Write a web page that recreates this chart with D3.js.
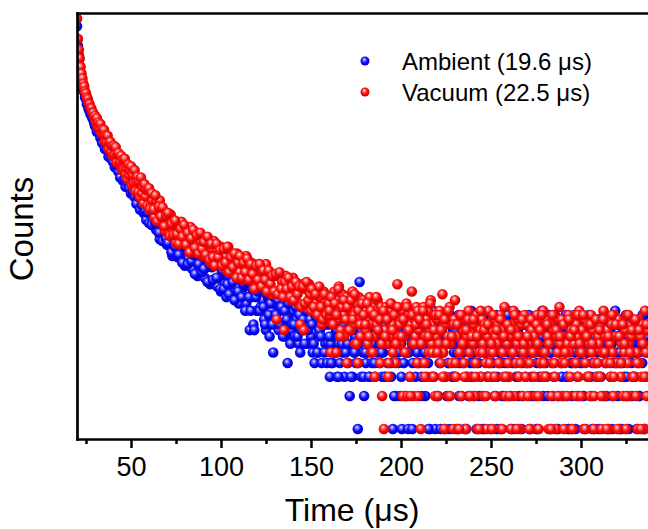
<!DOCTYPE html>
<html>
<head>
<meta charset="utf-8">
<script src="https://cdn.jsdelivr.net/npm/d3@7"></script>
<style>
  body { margin: 0; background: #fff; }
  text { font-family: "Liberation Sans", Arial, sans-serif; fill: #000; }
</style>
</head>
<body>
<div id="chart"></div>
<script>
// decay data, several sampling segments per series
// segment start times (us) and steps (us), same order as the arrays below
var segStart = [20, 60, 60.5, 160, 160.25];
var segStep = [0.5, 1, 1, 0.5, 1];

// Ambient, t = 20 .. 59.5 step 0.5
var ambientEarly = [
  4750, 3150, 2580, 2060, 1800, 1530, 1410, 1250, 1190, 1070,
  1025, 925, 905, 830, 810, 750, 740, 690, 680, 630,
  583, 627, 518, 596, 509, 563, 455, 496, 409, 469,
  459, 361, 411, 355, 414, 307, 338, 369, 293, 331,
  275, 326, 245, 301, 254, 301, 224, 253, 198, 257,
  255, 186, 227, 189, 163, 234, 178, 198, 157, 195,
  141, 192, 147, 190, 131, 153, 114, 159, 131, 145,
  101, 151, 111, 126, 94, 131, 98, 81, 116, 94
];
// Ambient, t = 60 .. 159 step 1
var ambientMid = [
  76, 105, 80, 109, 66, 80, 54, 82, 61, 77,
  48, 71, 50, 38, 57, 48, 37, 61, 39, 47,
  31, 48, 36, 41, 29, 48, 34, 25, 39, 28,
  40, 24, 30, 34, 21, 30, 23, 35, 20, 24,
  18, 29, 21, 16, 25, 21, 17, 27, 18, 20,
  14, 23, 17, 20, 14, 22, 8, 16, 9, 18,
  12, 19, 13, 15, 10, 8, 16, 7, 12, 5,
  10, 14, 8, 12, 9, 15, 7, 4, 11, 8,
  12, 7, 10, 6, 5, 13, 8, 9, 6, 11,
  7, 5, 4, 10, 5, 8, 4, 12, 6, 4
];
// Ambient, t = 60.5 .. 159.5 step 1
var ambientMidB = [
  112, 73, 96, 76, 100, 62, 80, 52, 79, 55,
  50, 68, 41, 58, 46, 63, 39, 49, 33, 50,
  47, 32, 49, 34, 39, 26, 42, 32, 43, 27,
  29, 37, 22, 32, 36, 23, 31, 24, 34, 19,
  28, 19, 31, 21, 17, 27, 22, 15, 26, 18,
  25, 16, 21, 12, 22, 16, 12, 19, 8, 16,
  18, 12, 19, 13, 9, 17, 11, 14, 9, 16,
  11, 15, 9, 13, 7, 12, 10, 14, 6, 9,
  9, 13, 7, 11, 8, 10, 6, 12, 8, 10,
  9, 6, 11, 5, 8, 7, 10, 5, 9, 6
];
// Ambient, t = 160 .. 337 step 0.5
var ambientTail = [
  9, 3, 6, 11, 4, 7, 13, 5, 8, 3, 10, 6, 4, 9, 12, 5, 7, 3, 11, 6,
  8, 4, 10, 2, 6, 9, 3, 12, 5, 7, 4, 11, 1, 6, 22, 8, 3, 10, 5, 2,
  7, 4, 9, 5, 11, 3, 6, 8, 4, 10, 6, 3, 12, 7, 5, 9, 4, 6, 8, 3,
  5, 9, 3, 7, 11, 4, 8, 6, 10, 3, 7, 1, 5, 9, 2, 6, 12, 4, 8, 2,
  6, 1, 9, 4, 7, 2, 10, 5, 1, 8, 3, 11, 6, 4, 9, 7, 3, 12, 5, 8,
  4, 9, 6, 3, 11, 5, 8, 2, 7, 10, 4, 6, 1, 9, 3, 7, 12, 5, 1, 8,
  6, 2, 10, 4, 1, 8, 5, 11, 3, 7, 9, 2, 6, 4, 1, 10, 7, 3, 8, 5,
  3, 9, 1, 6, 11, 4, 7, 2, 8, 5, 10, 1, 6, 3, 9, 2, 7, 4, 12, 5,
  8, 2, 5, 10, 1, 7, 4, 9, 3, 6, 11, 2, 8, 1, 5, 7, 3, 10, 4, 6,
  1, 7, 4, 9, 2, 6, 11, 3, 8, 5, 1, 10, 4, 7, 2, 9, 6, 3, 8, 12,
  5, 10, 2, 7, 4, 1, 9, 6, 3, 11, 8, 2, 5, 7, 1, 4, 10, 6, 3, 9,
  4, 6, 11, 1, 8, 3, 5, 9, 2, 7, 10, 4, 1, 6, 3, 8, 5, 12, 2, 7,
  9, 3, 6, 2, 10, 5, 1, 8, 4, 7, 3, 11, 6, 1, 9, 2, 5, 8, 4, 10,
  2, 8, 5, 11, 3, 7, 1, 6, 9, 4, 2, 10, 7, 5, 1, 8, 3, 6, 11, 4,
  7, 4, 10, 2, 6, 1, 8, 5, 3, 11, 9, 6, 2, 4, 7, 1, 10, 3, 5, 8,
  1, 6, 3, 9, 7, 2, 11, 4, 8, 5, 1, 7, 10, 3, 6, 2, 9, 4, 12, 5,
  9, 2, 7, 5, 1, 10, 4, 8, 3, 6, 11, 2, 7, 1, 5, 9, 4, 6, 3, 8,
  3, 7, 1, 9, 5, 2, 10, 6, 4, 8, 1, 11, 3, 7, 5
];
// Ambient, t = 160.25 .. 336.25 step 1
var ambientTailB = [
  7, 4, 10, 5, 8, 3, 11, 6, 9, 5,
  6, 10, 3, 8, 5, 12, 4, 7, 9, 3,
  5, 8, 3, 10, 6, 4, 9, 7, 11, 5,
  8, 3, 6, 10, 4, 7, 2, 9, 5, 11,
  3, 7, 2, 10, 5, 8, 1, 6, 11, 4,
  7, 2, 9, 5, 11, 1, 6, 8, 3, 10,
  2, 8, 5, 10, 1, 7, 4, 11, 6, 3,
  8, 5, 2, 10, 4, 7, 1, 9, 6, 3,
  4, 10, 6, 2, 8, 1, 11, 5, 3, 7,
  9, 3, 7, 1, 10, 5, 2, 8, 4, 11,
  6, 1, 8, 4, 11, 3, 7, 2, 9, 5,
  10, 5, 2, 8, 6, 1, 9, 4, 7, 3,
  4, 7, 11, 5, 2, 9, 6, 1, 8, 3,
  6, 10, 3, 1, 7, 4, 11, 8, 2, 5,
  11, 2, 8, 5, 9, 3, 1, 7, 4, 10,
  3, 9, 5, 11, 2, 6, 8, 1, 10, 7,
  7, 4, 1, 8, 10, 3, 6, 9, 2, 5,
  5, 9, 2, 6, 11, 1, 8
];

// Vacuum, t = 20 .. 59.5 step 0.5
var vacuumEarly = [
  5600, 3650, 2900, 2420, 2020, 1760, 1590, 1420, 1340, 1210,
  1160, 1070, 1030, 950, 925, 860, 845, 780, 770, 710,
  723, 637, 690, 578, 630, 559, 610, 503, 546, 495,
  539, 423, 477, 411, 476, 363, 408, 419, 339, 384,
  312, 386, 318, 374, 271, 319, 330, 263, 276, 313,
  230, 289, 236, 294, 214, 242, 192, 259, 209, 231,
  251, 167, 209, 175, 231, 147, 180, 201, 145, 183,
  130, 198, 142, 162, 115, 172, 133, 152, 109, 152
];
// Vacuum, t = 60 .. 159 step 1
var vacuumMid = [
  158, 110, 121, 86, 121, 97, 122, 77, 92, 64,
  85, 61, 91, 67, 71, 50, 77, 56, 78, 51,
  67, 49, 56, 70, 41, 57, 47, 62, 40, 51,
  38, 56, 43, 50, 33, 44, 52, 36, 43, 33,
  46, 34, 38, 28, 46, 33, 38, 27, 33, 40,
  27, 36, 23, 31, 38, 26, 23, 33, 27, 29,
  21, 32, 24, 27, 20, 32, 22, 24, 17, 26,
  25, 10, 26, 19, 22, 8, 25, 17, 20, 15,
  24, 17, 20, 14, 9, 21, 8, 19, 14, 21,
  12, 18, 14, 19, 12, 16, 9, 18, 14, 10
];
// Vacuum, t = 60.5 .. 159.5 step 1
var vacuumMidB = [
  101, 142, 101, 136, 79, 107, 87, 106, 71, 89,
  94, 58, 75, 59, 80, 60, 49, 67, 57, 73,
  48, 62, 41, 55, 66, 45, 59, 40, 62, 44,
  51, 39, 57, 35, 49, 37, 31, 49, 37, 43,
  31, 44, 33, 46, 27, 37, 30, 40, 24, 33,
  38, 24, 33, 27, 36, 23, 32, 26, 19, 31,
  23, 32, 20, 28, 23, 18, 28, 21, 25, 18,
  26, 17, 27, 19, 16, 22, 19, 24, 16, 20,
  15, 22, 17, 20, 13, 20, 14, 22, 15, 17,
  19, 13, 17, 11, 20, 13, 10, 17, 11, 14
];
// Vacuum, t = 160 .. 337 step 0.5
var vacuumTail = [
  14, 11, 5, 16, 12, 9, 18, 13, 5, 15, 10, 20, 12, 8, 14, 17, 11, 7, 13, 16,
  4, 13, 10, 15, 8, 12, 18, 9, 11, 6, 14, 10, 4, 16, 12, 7, 13, 9, 15, 11,
  12, 8, 14, 6, 10, 16, 9, 5, 11, 13, 7, 3, 12, 9, 15, 8, 10, 4, 13, 2,
  11, 1, 8, 13, 6, 10, 3, 12, 7, 14, 9, 5, 11, 8, 4, 13, 21, 7, 10, 6,
  9, 12, 2, 7, 10, 5, 14, 2, 8, 11, 3, 9, 18, 6, 2, 10, 7, 13, 4, 2,
  8, 11, 1, 6, 9, 13, 4, 7, 10, 3, 12, 5, 8, 15, 6, 9, 3, 11, 2, 7,
  10, 2, 6, 12, 4, 8, 17, 5, 1, 9, 3, 11, 7, 2, 13, 6, 4, 9, 1, 10,
  15, 3, 7, 1, 9, 5, 11, 2, 6, 8, 4, 10, 1, 7, 3, 12, 5, 2, 8, 6,
  6, 9, 2, 4, 11, 1, 7, 5, 8, 3, 10, 6, 2, 9, 4, 1, 7, 12, 3, 5,
  8, 1, 5, 10, 3, 7, 2, 6, 9, 4, 11, 1, 8, 5, 3, 13, 2, 7, 6, 4,
  3, 7, 1, 9, 5, 12, 2, 8, 4, 6, 10, 3, 1, 7, 9, 2, 5, 11, 6, 4,
  9, 2, 6, 4, 1, 8, 10, 3, 7, 5, 2, 11, 6, 1, 9, 4, 8, 3, 12, 5,
  5, 10, 3, 7, 1, 6, 9, 2, 4, 8, 11, 3, 1, 7, 5, 10, 13, 6, 4, 2,
  7, 1, 4, 9, 2, 6, 11, 5, 3, 8, 1, 10, 6, 4, 2, 9, 7, 3, 12, 5,
  2, 8, 5, 1, 10, 4, 7, 3, 9, 6, 2, 11, 5, 8, 1, 4, 6, 10, 3, 7,
  6, 3, 9, 1, 5, 12, 2, 7, 4, 8, 10, 1, 6, 3, 9, 5, 2, 11, 7, 4,
  4, 10, 1, 7, 3, 6, 9, 2, 5, 8, 1, 11, 4, 6, 2, 9, 7, 3, 10, 5,
  8, 2, 5, 1, 10, 4, 7, 3, 9, 6, 1, 12, 5, 2, 8
];
// Vacuum, t = 160.25 .. 336.25 step 1
var vacuumTailB = [
  12, 16, 9, 14, 11, 19, 7, 13, 15, 10,
  13, 8, 15, 10, 17, 6, 12, 9, 14, 11,
  9, 14, 7, 12, 5, 11, 16, 8, 10, 6,
  12, 7, 10, 4, 14, 8, 11, 6, 13, 9,
  7, 10, 5, 13, 8, 2, 11, 6, 9, 12,
  10, 6, 12, 3, 9, 7, 14, 5, 8, 11,
  5, 11, 8, 3, 10, 6, 12, 2, 7, 9,
  4, 9, 1, 11, 6, 3, 8, 10, 2, 7,
  10, 3, 7, 1, 12, 5, 8, 2, 9, 4,
  6, 11, 2, 8, 4, 10, 1, 7, 3, 9,
  2, 8, 5, 11, 1, 7, 4, 10, 6, 3,
  7, 1, 10, 5, 3, 9, 2, 8, 11, 4,
  3, 9, 6, 1, 11, 4, 8, 2, 7, 10,
  9, 5, 2, 10, 7, 1, 8, 4, 11, 6,
  5, 11, 1, 7, 3, 9, 6, 2, 10, 4,
  8, 2, 10, 5, 1, 7, 4, 11, 3, 9,
  1, 7, 4, 9, 6, 2, 11, 5, 8, 3,
  10, 4, 8, 1, 6, 3, 9
];

var xTicks = [50, 100, 150, 200, 250, 300];
var xMinorTicks = [25, 75, 125, 175, 225, 275, 325];
var legendLabels = ["Ambient (19.6 \u03bcs)", "Vacuum (22.5 \u03bcs)"];

// svg size
var svgWidth = 648;
var svgHeight = 529;

var svg = d3.select("#chart")
  .append("svg")
  .attr("width", svgWidth)
  .attr("height", svgHeight);

// plot box: left 77, top 13, bottom 439 (right side runs off the page)
var x = d3.scaleLinear().domain([20, 350]).range([77, 671]);
var y = d3.scaleLog().domain([0.81, 6290]).range([439, 13]);

function buildPoints(parts) {
  var pts = [];
  parts.forEach(function(vals, k) {
    vals.forEach(function(v, i) {
      pts.push({ t: segStart[k] + i * segStep[k], c: v });
    });
  });
  return pts;
}

var ambientPts = buildPoints([ambientEarly, ambientMid, ambientMidB, ambientTail, ambientTailB]);
var vacuumPts = buildPoints([vacuumEarly, vacuumMid, vacuumMidB, vacuumTail, vacuumTailB]);

// shaded sphere look for the markers
var defs = svg.append("defs");
function sphere(id, light, base, dark) {
  var g = defs.append("radialGradient")
    .attr("id", id)
    .attr("cx", "45%").attr("cy", "45%").attr("r", "60%")
    .attr("fx", "42%").attr("fy", "32%");
  g.append("stop").attr("offset", "0%").attr("stop-color", "#ffffff");
  g.append("stop").attr("offset", "18%").attr("stop-color", light);
  g.append("stop").attr("offset", "55%").attr("stop-color", base);
  g.append("stop").attr("offset", "100%").attr("stop-color", dark);
}
sphere("gBlue", "#8c8cff", "#0a0aff", "#0000b4");
sphere("gRed", "#ff8c8c", "#ff0a0a", "#c20000");

defs.append("clipPath").attr("id", "plotClip")
  .append("rect")
  .attr("x", 77).attr("y", 13)
  .attr("width", svgWidth - 77).attr("height", 439 - 13);

var plot = svg.append("g").attr("clip-path", "url(#plotClip)");

plot.selectAll("circle.ambient")
  .data(ambientPts)
  .enter().append("circle")
  .attr("class", "ambient")
  .attr("cx", d => x(d.t))
  .attr("cy", d => y(d.c))
  .attr("r", 5.3)
  .attr("fill", "url(#gBlue)");

plot.selectAll("circle.vacuum")
  .data(vacuumPts)
  .enter().append("circle")
  .attr("class", "vacuum")
  .attr("cx", d => x(d.t))
  .attr("cy", d => y(d.c))
  .attr("r", 5.3)
  .attr("fill", "url(#gRed)");

// axes
var xAxis = d3.axisBottom(x)
  .tickValues(xTicks)
  .tickSize(9)
  .tickSizeOuter(0)
  .tickPadding(9)
  .tickFormat(d3.format("d"));

var xMinor = d3.axisBottom(x)
  .tickValues(xMinorTicks)
  .tickSize(5)
  .tickSizeOuter(0)
  .tickFormat("");

svg.append("g")
  .attr("class", "xMinor")
  .attr("transform", "translate(0,439)")
  .call(xMinor)
  .call(g => g.select(".domain").remove());

var gx = svg.append("g")
  .attr("class", "xAxis")
  .attr("transform", "translate(0,439)")
  .call(xAxis);
gx.selectAll("text").style("font-size", "27px").attr("fill", "#000");

svg.append("g")
  .attr("transform", "translate(0,13)")
  .call(d3.axisTop(x).tickValues([]).tickSizeOuter(0));

svg.append("g")
  .attr("transform", "translate(77,0)")
  .call(d3.axisLeft(y).tickValues([]).tickSizeOuter(0));

svg.selectAll(".domain")
  .attr("stroke", "#000")
  .attr("stroke-width", 2.7)
  .attr("stroke-linecap", "square");
svg.selectAll(".tick line")
  .attr("stroke", "#000")
  .attr("stroke-width", 2.5);

// axis titles
svg.append("text")
  .attr("x", 352)
  .attr("y", 521)
  .attr("text-anchor", "middle")
  .style("font-size", "32px")
  .text("Time (\u03bcs)");

svg.append("text")
  .attr("transform", "translate(33,229) rotate(-90)")
  .attr("text-anchor", "middle")
  .style("font-size", "33px")
  .text("Counts");

// legend
var legend = svg.append("g").attr("class", "legend");
var legendFills = ["url(#gBlue)", "url(#gRed)"];
legendLabels.forEach(function(label, i) {
  var ly = 61 + i * 31;
  legend.append("circle")
    .attr("cx", 365)
    .attr("cy", ly)
    .attr("r", 4.5)
    .attr("fill", legendFills[i]);
  legend.append("text")
    .attr("x", 402)
    .attr("y", ly + 8.5)
    .style("font-size", "24px")
    .text(label);
});
</script>
</body>
</html>
